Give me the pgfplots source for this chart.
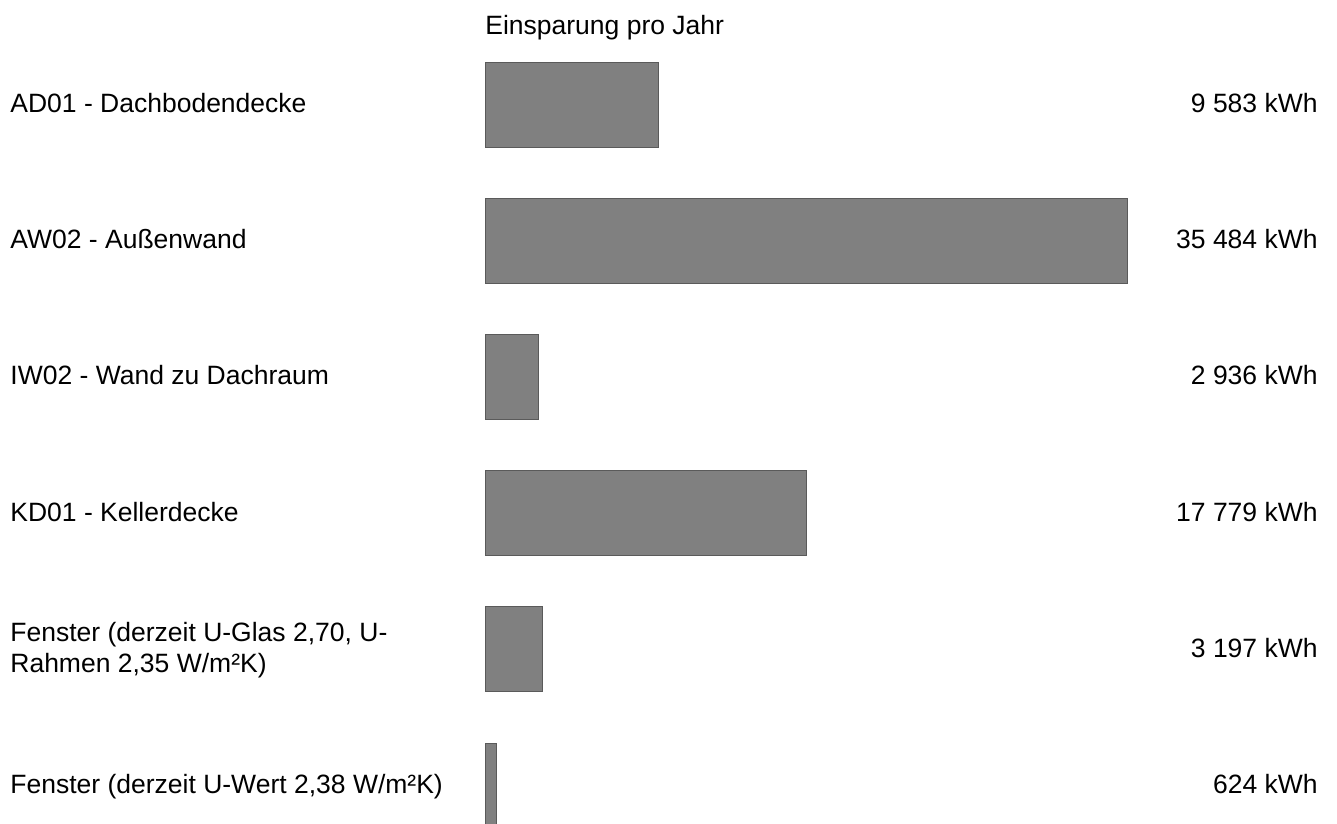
\documentclass[border=0pt]{standalone}
\usepackage{fontspec}
\setmainfont{Liberation Sans}
\usepackage{pgfplots}
\pgfplotsset{compat=1.18}

\definecolor{barfill}{RGB}{128,128,128}
\definecolor{baredge}{RGB}{90,90,90}

\tikzset{lbl/.style={font=\fontsize{13.25bp}{15.5bp}\selectfont, inner sep=0pt, text=black}}

\begin{document}
\begin{tikzpicture}
    % page = 1337 x 824 px, 1 px = 0.5 bp, origin top left
    \path[use as bounding box, clip] (0,0) rectangle (668.5bp,-412bp);

    \begin{axis}[
            at={(242.5bp,-52.25bp)}, anchor=north west,
            scale only axis,
            width=416.5bp, height=340.5bp,
            xmin=0, xmax=46041,
            ymin=0, ymax=5,
            y dir=reverse,
            hide axis,
            clip=false,
            xbar,
            bar width=42.5bp,
        ]

        \addplot[fill=barfill, draw=baredge, line width=0.5bp] coordinates {
                (9583,0) (35484,1) (2936,2) (17779,3) (3197,4) (624,5)
            };

        % title
        \node[lbl, anchor=base west] at (axis cs:0,-0.5176) {Einsparung pro Jahr};

        % category labels
        \node[lbl, anchor=base west, xshift=-237.5bp, yshift=-4bp] at (axis cs:0,0) {AD01 - Dachbodendecke};
        \node[lbl, anchor=base west, xshift=-237.5bp, yshift=-4bp] at (axis cs:0,1) {AW02 - Außenwand};
        \node[lbl, anchor=base west, xshift=-237.5bp, yshift=-4bp] at (axis cs:0,2) {IW02 - Wand zu Dachraum};
        \node[lbl, anchor=base west, xshift=-237.5bp, yshift=-4bp] at (axis cs:0,3) {KD01 - Kellerdecke};
        \node[lbl, anchor=base west, xshift=-237.5bp, yshift=3.75bp] at (axis cs:0,4) {Fenster (derzeit U-Glas 2,70, U-};
        \node[lbl, anchor=base west, xshift=-237.5bp, yshift=-11.75bp] at (axis cs:0,4) {Rahmen 2,35 W/m²K)};
        \node[lbl, anchor=base west, xshift=-237.5bp, yshift=-4bp] at (axis cs:0,5) {Fenster (derzeit U-Wert 2,38 W/m²K)};

        % value labels
        \node[lbl, anchor=base east, yshift=-4bp] at (axis cs:46041,0) {9 583 kWh};
        \node[lbl, anchor=base east, yshift=-4bp] at (axis cs:46041,1) {35 484 kWh};
        \node[lbl, anchor=base east, yshift=-4bp] at (axis cs:46041,2) {2 936 kWh};
        \node[lbl, anchor=base east, yshift=-4bp] at (axis cs:46041,3) {17 779 kWh};
        \node[lbl, anchor=base east, yshift=-4bp] at (axis cs:46041,4) {3 197 kWh};
        \node[lbl, anchor=base east, yshift=-4bp] at (axis cs:46041,5) {624 kWh};
    \end{axis}
\end{tikzpicture}
\end{document}
